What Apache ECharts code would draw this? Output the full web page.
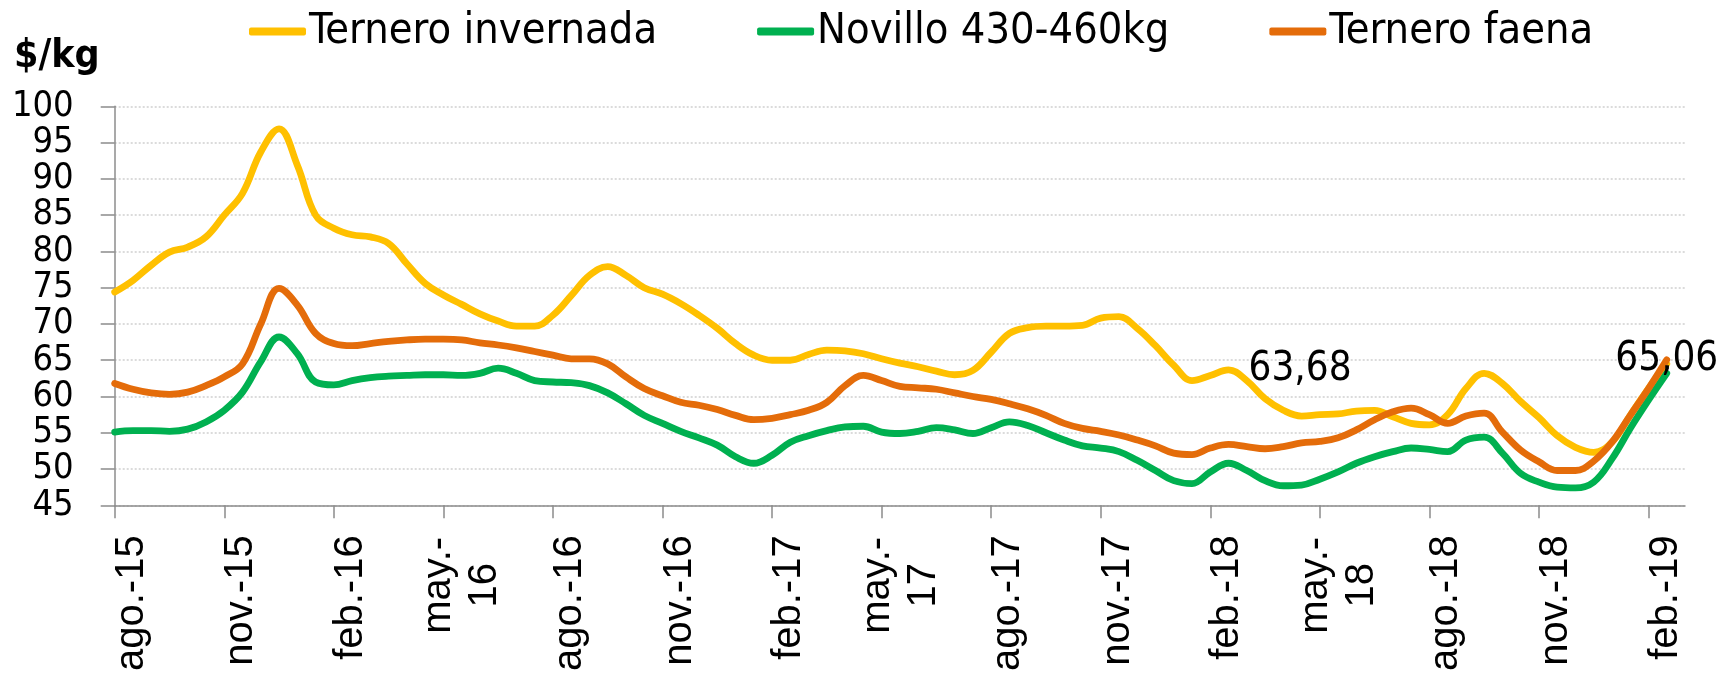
<!DOCTYPE html>
<html>
<head>
<meta charset="utf-8">
<script src="https://cdn.jsdelivr.net/npm/echarts@6/dist/echarts.min.js"></script>
<style>
  html, body { margin: 0; padding: 0; background: #fff; }
  #chart { width: 1721px; height: 674px; }
</style>
</head>
<body>
<div id="chart"></div>
<script>
// half-month readings, ago.-15 (1st half) .. feb.-19 (2nd half)
var invernada = [
  74.4, 76.0, 78.1, 79.9, 80.6, 82.0, 85.0, 88.0, 93.7, 96.9,
  91.9, 85.0, 83.2, 82.3, 82.0, 81.1, 78.3, 75.6, 74.0, 72.7,
  71.4, 70.4, 69.7, 69.7, 71.2, 73.9, 76.7, 77.9, 76.7, 75.0,
  74.1, 72.8, 71.2, 69.4, 67.3, 65.7, 65.0, 65.0, 65.8, 66.4,
  66.3, 65.9, 65.2, 64.6, 64.1, 63.5, 63.0, 63.6, 66.1, 68.7,
  69.5, 69.7, 69.7, 69.8, 70.8, 71.0, 69.4, 67.0, 64.3, 62.2,
  62.9, 63.68, 62.2, 59.7, 58.1, 57.3, 57.5, 57.6, 58.0, 58.1,
  57.2, 56.3, 56.1, 57.5, 61.1, 63.2, 61.8, 59.3, 57.1, 54.6,
  53.0, 52.3, 53.7, 57.4, 61.1, 64.5
];
var novillo = [
  55.1, 55.3, 55.3, 55.2, 55.5, 56.5, 58.1, 60.6, 64.8, 68.2,
  65.9, 62.0, 61.6, 62.2, 62.6, 62.8, 62.9, 63.0, 63.0, 62.9,
  63.2, 63.9, 63.2, 62.2, 62.0, 61.9, 61.5, 60.5, 59.0, 57.4,
  56.3, 55.2, 54.3, 53.3, 51.7, 50.8, 51.9, 53.7, 54.6, 55.3,
  55.8, 55.9, 55.1, 54.9, 55.2, 55.7, 55.4, 54.9, 55.7, 56.5,
  56.0, 55.0, 54.0, 53.2, 52.9, 52.4, 51.2, 49.8, 48.4, 48.0,
  49.6, 50.8, 49.8, 48.4, 47.7, 47.8, 48.6, 49.6, 50.8, 51.7,
  52.4, 52.9, 52.7, 52.4, 54.0, 54.4, 52.2, 49.4, 48.2, 47.5,
  47.4, 48.2, 51.4, 55.6, 59.5, 63.2
];
var faena = [
  61.8, 61.0, 60.5, 60.3, 60.6, 61.5, 62.7, 64.5, 70.0, 74.9,
  72.6, 68.7, 67.3, 67.0, 67.3, 67.6, 67.8, 67.9, 67.9, 67.8,
  67.4, 67.1, 66.7, 66.2, 65.7, 65.2, 65.2, 64.5, 62.7, 61.1,
  60.1, 59.2, 58.8, 58.2, 57.4, 56.8, 57.0, 57.5, 58.1, 59.2,
  61.5, 62.9, 62.2, 61.4, 61.2, 61.0, 60.5, 60.0, 59.6, 59.0,
  58.3, 57.4, 56.3, 55.6, 55.2, 54.7, 54.0, 53.2, 52.2, 52.0,
  52.9, 53.4, 53.1, 52.8, 53.1, 53.6, 53.8, 54.3, 55.4, 56.8,
  57.9, 58.4, 57.5, 56.3, 57.3, 57.7, 55.1, 52.6, 51.0, 49.8,
  49.8, 51.1, 53.7, 57.4, 61.1, 65.06
];
var tickLabels = ['ago.-15', 'nov.-15', 'feb.-16', 'may.-\n16', 'ago.-16', 'nov.-16', 'feb.-17',
  'may.-\n17', 'ago.-17', 'nov.-17', 'feb.-18', 'may.-\n18', 'ago.-18', 'nov.-18', 'feb.-19'];
var monthNames = ['ene', 'feb', 'mar', 'abr', 'may', 'jun', 'jul', 'ago', 'sep', 'oct', 'nov', 'dic'];
var labelledPoints = { 'Ternero invernada': [61, 'right'], 'Ternero faena': [85, 'inside'] };

// half-month categories, ago.-15 .. mar.-19
var periods = [];
for (var i = 0; i <= 86; i++) {
  var m = 7 + Math.floor(i / 2);
  periods.push(monthNames[m % 12] + '.-' + (15 + Math.floor(m / 12)) + (i % 2 ? ' b' : ' a'));
}

var condensed = '"DejaVu Sans Condensed", "DejaVu Sans", sans-serif';
var arial = '"Liberation Sans", Arial, sans-serif';

function withLabel(name, values) {
  var lp = labelledPoints[name];
  return values.map(function (v, idx) {
    if (!lp || idx !== lp[0]) return v;
    return {
      value: v,
      symbol: 'circle',
      symbolSize: 0.1,
      label: {
        show: true,
        position: lp[1],
        distance: 20,
        formatter: function (p) { return String(p.value).replace('.', ','); },
        color: '#000',
        fontSize: 40,
        fontFamily: condensed
      }
    };
  });
}

function lineSeries(name, values, color) {
  return {
    name: name,
    type: 'line',
    data: withLabel(name, values),
    symbol: 'none',
    smooth: 0.4,
    lineStyle: { color: color, width: 6.8, cap: 'round', join: 'round' },
    itemStyle: { color: color },
    emphasis: { disabled: true },
    animation: false
  };
}

var chart = echarts.init(document.getElementById('chart'));
chart.setOption({
  backgroundColor: '#fff',
  animation: false,
  title: {
    text: '$/kg',
    left: 14,
    top: 37,
    padding: 0,
    textStyle: { fontSize: 39, fontWeight: 'bold', color: '#000', fontFamily: condensed }
  },
  legend: {
    top: 5,
    left: 244,
    itemGap: 100,
    itemWidth: 57,
    itemHeight: 8,
    icon: 'roundRect',
    textStyle: { fontSize: 43, color: '#000', fontFamily: condensed, padding: [0, 0, 0, -2] },
    data: ['Ternero invernada', 'Novillo 430-460kg', 'Ternero faena']
  },
  grid: { left: 114.7, right: 36, top: 106.3, bottom: 168.5, containLabel: false },
  xAxis: {
    type: 'category',
    data: periods,
    boundaryGap: false,
    axisLine: { lineStyle: { color: '#8c8c8c', width: 1.5 } },
    axisTick: {
      show: true,
      length: 13,
      interval: function (idx) { return idx % 6 === 0; },
      lineStyle: { color: '#8c8c8c', width: 1.5 }
    },
    axisLabel: {
      interval: function (idx) { return idx % 6 === 0; },
      rotate: 90,
      margin: 30,
      color: '#000',
      fontSize: 40,
      lineHeight: 46,
      fontFamily: arial,
      formatter: function (value, idx) {
        var t = tickLabels[idx / 6];
        if (!t) return '';
        if (t.indexOf('\n') < 0) return '{e1| }\n{s|' + t + '}';
        var parts = t.split('\n');
        return '{e2| }\n{t|' + parts[0] + '}\n{t|' + parts[1] + '}';
      },
      rich: {
        e1: { fontSize: 10, lineHeight: 34 },
        e2: { fontSize: 10, lineHeight: 38 },
        s: { fontSize: 40, lineHeight: 46, fontFamily: arial, color: '#000' },
        t: { fontSize: 40, lineHeight: 46, width: 100, align: 'center', fontFamily: arial, color: '#000' }
      }
    },
    splitLine: { show: false }
  },
  yAxis: {
    type: 'value',
    min: 45,
    max: 100,
    interval: 5,
    axisLine: { show: true, lineStyle: { color: '#8c8c8c', width: 1.5 } },
    axisTick: { show: true, length: 14, lineStyle: { color: '#8c8c8c', width: 1.5 } },
    axisLabel: { margin: 41, color: '#000', fontSize: 36, fontFamily: condensed },
    splitLine: { show: true, lineStyle: { color: '#cfcfcf', width: 1.5, type: [2, 2] } }
  },
  series: [
    lineSeries('Ternero invernada', invernada, '#FFC000'),
    lineSeries('Novillo 430-460kg', novillo, '#00B050'),
    lineSeries('Ternero faena', faena, '#E46C0A')
  ]
});
</script>
</body>
</html>
